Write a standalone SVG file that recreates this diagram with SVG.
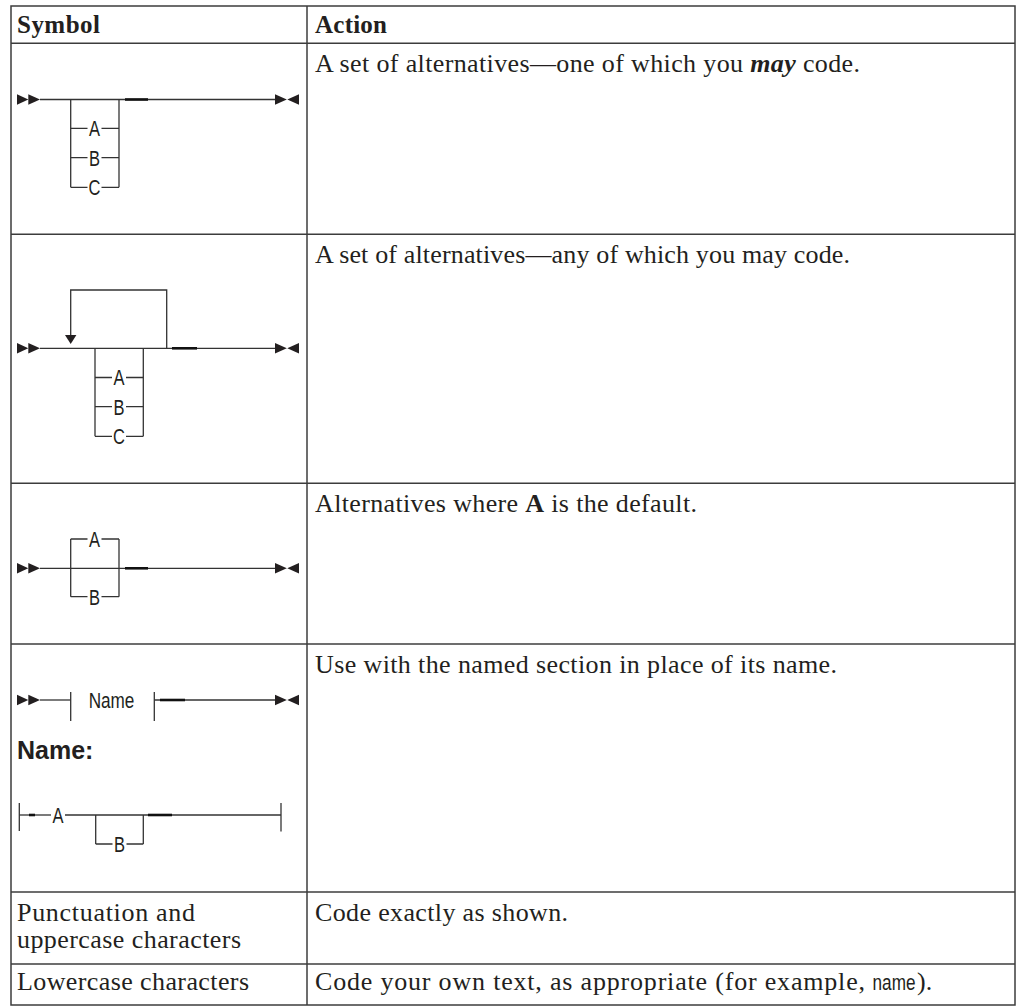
<svg xmlns="http://www.w3.org/2000/svg" xmlns:xlink="http://www.w3.org/1999/xlink" width="1016" height="1006" viewBox="0 0 1016 1006">
<style>
.grid{stroke:#3c3c3c;stroke-width:1.5;fill:none}
.ln{stroke:#333;stroke-width:1.3;fill:none}
.thk{stroke:#111;stroke-width:2.6;fill:none}
.ser{font-family:"Liberation Serif","Times New Roman",serif;font-size:26px;fill:#231f20}
.hd{font-family:"Liberation Serif","Times New Roman",serif;font-size:25px;font-weight:bold;fill:#231f20}
.nar{font-family:"Liberation Sans",Arial,sans-serif;font-size:22px;fill:#231f20;text-anchor:middle}
.bsans{font-family:"Liberation Sans",Arial,sans-serif;font-size:25px;font-weight:bold;fill:#231f20}
.tri{fill:#231f20}
</style>
<defs>
<g id="startArr" class="tri"><polygon points="17,-5.3 28.3,0 17,5.3"/><polygon points="28.3,-5.3 40,0 28.3,5.3"/></g>
<g id="endArr" class="tri"><polygon points="275,-5.3 286.8,0 275,5.3"/><polygon points="299,-5.3 287.3,0 299,5.3"/></g>
</defs>

<g id="table">
<rect class="grid" x="11" y="6" width="1004" height="999"/>
<line class="grid" x1="307" y1="6" x2="307" y2="1005"/>
<line class="grid" x1="11" y1="43.3" x2="1015" y2="43.3"/>
<line class="grid" x1="11" y1="234.3" x2="1015" y2="234.3"/>
<line class="grid" x1="11" y1="483.3" x2="1015" y2="483.3"/>
<line class="grid" x1="11" y1="644" x2="1015" y2="644"/>
<line class="grid" x1="11" y1="892" x2="1015" y2="892"/>
<line class="grid" x1="11" y1="964" x2="1015" y2="964"/>
</g>

<g id="header">
<text class="hd" x="17" y="33" textLength="83">Symbol</text>
<text class="hd" x="315" y="33" textLength="72">Action</text>
</g>

<g id="row1">
<use xlink:href="#startArr" y="99.5"/>
<use xlink:href="#endArr" y="99.5"/>
<g class="ln">
<line x1="40" y1="99.5" x2="275" y2="99.5"/>
<line x1="70.7" y1="99.5" x2="70.7" y2="187.3"/>
<line x1="119" y1="99.5" x2="119" y2="187.3"/>
<path d="M70.7,128.3H87.5M101.5,128.3H119M70.7,157.7H87.5M101.5,157.7H119M70.7,187.3H87.5M101.5,187.3H119"/>
</g>
<line class="thk" x1="125" y1="99.5" x2="148" y2="99.5"/>
<text class="nar" transform="translate(94.5,136.2) scale(0.75,1)">A</text>
<text class="nar" transform="translate(94.5,165.6) scale(0.75,1)">B</text>
<text class="nar" transform="translate(94.5,195.2) scale(0.75,1)">C</text>
<text class="ser" x="315" y="72" textLength="545">A set of alternatives—one of which you <tspan font-style="italic" font-weight="bold">may</tspan> code.</text>
</g>

<g id="row2">
<use xlink:href="#startArr" y="348.3"/>
<use xlink:href="#endArr" y="348.3"/>
<g class="ln">
<line x1="40" y1="348.3" x2="275" y2="348.3"/>
<path d="M70.7,336V290H166.7V348.3"/>
<line x1="95" y1="348.3" x2="95" y2="436.3"/>
<line x1="143.3" y1="348.3" x2="143.3" y2="436.3"/>
<path d="M95,377.5H112M126,377.5H143.3M95,406.7H112M126,406.7H143.3M95,436.3H112M126,436.3H143.3"/>
</g>
<polygon class="tri" points="65,335 76.4,335 70.7,344"/>
<line class="thk" x1="172" y1="348.3" x2="197" y2="348.3"/>
<text class="nar" transform="translate(119,385.4) scale(0.75,1)">A</text>
<text class="nar" transform="translate(119,414.6) scale(0.75,1)">B</text>
<text class="nar" transform="translate(119,444.2) scale(0.75,1)">C</text>
<text class="ser" x="315" y="263" textLength="535">A set of alternatives—any of which you may code.</text>
</g>

<g id="row3">
<use xlink:href="#startArr" y="568.3"/>
<use xlink:href="#endArr" y="568.3"/>
<g class="ln">
<line x1="40" y1="568.3" x2="275" y2="568.3"/>
<line x1="70.7" y1="539" x2="70.7" y2="596.7"/>
<line x1="119" y1="539" x2="119" y2="596.7"/>
<path d="M70.7,539H87.5M101.5,539H119M70.7,596.7H87.5M101.5,596.7H119"/>
</g>
<line class="thk" x1="125" y1="568.3" x2="148" y2="568.3"/>
<text class="nar" transform="translate(94.5,546.9) scale(0.75,1)">A</text>
<text class="nar" transform="translate(94.5,604.6) scale(0.75,1)">B</text>
<text class="ser" x="315" y="512" textLength="382">Alternatives where <tspan font-weight="bold">A</tspan> is the default.</text>
</g>

<g id="row4">
<use xlink:href="#startArr" y="700"/>
<use xlink:href="#endArr" y="700"/>
<g class="ln">
<line x1="40" y1="700" x2="70.7" y2="700"/>
<line x1="70.7" y1="692" x2="70.7" y2="721"/>
<line x1="154.3" y1="692" x2="154.3" y2="721"/>
<line x1="154.3" y1="700" x2="275" y2="700"/>
</g>
<line class="thk" x1="160" y1="700" x2="185" y2="700"/>
<text class="nar" transform="translate(111.5,707.8) scale(0.78,1)">Name</text>
<text class="bsans" x="17" y="759">Name:</text>
<g class="ln">
<line x1="19.3" y1="803" x2="19.3" y2="831"/>
<line x1="19.3" y1="815" x2="51" y2="815"/>
<line x1="65" y1="815" x2="281" y2="815"/>
<line x1="281" y1="803" x2="281" y2="831.5"/>
<line x1="95.7" y1="815" x2="95.7" y2="844"/>
<line x1="143.3" y1="815" x2="143.3" y2="844"/>
<path d="M95.7,844H112.5M126.5,844H143.3"/>
</g>
<line class="thk" x1="29" y1="815" x2="35" y2="815"/>
<line class="thk" x1="148" y1="815" x2="172" y2="815"/>
<text class="nar" transform="translate(58,822.8) scale(0.75,1)">A</text>
<text class="nar" transform="translate(119.5,851.8) scale(0.75,1)">B</text>
<text class="ser" x="315" y="673" textLength="522">Use with the named section in place of its name.</text>
</g>

<g id="row5">
<text class="ser" x="17" y="921" textLength="178">Punctuation and</text>
<text class="ser" x="17" y="948" textLength="224">uppercase characters</text>
<text class="ser" x="315" y="921" textLength="253">Code exactly as shown.</text>
</g>

<g id="row6">
<text class="ser" x="17" y="990" textLength="232">Lowercase characters</text>
<text class="ser" x="315" y="990" textLength="550">Code your own text, as appropriate (for example,</text>
<text class="nar" transform="translate(894,990) scale(0.78,1)">name</text>
<text class="ser" x="917" y="990">).</text>
</g>
</svg>
